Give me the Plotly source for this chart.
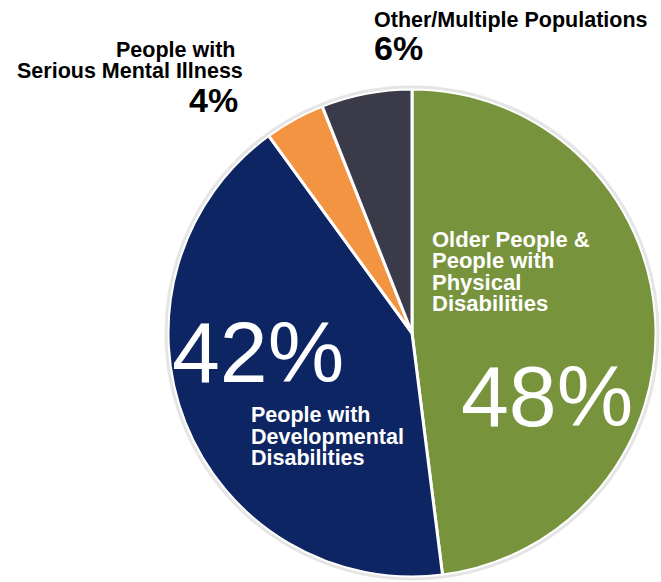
import plotly.graph_objects as go

# Share of spending by population group
categories = [
    "Older People & People with Physical Disabilities",
    "People with Developmental Disabilities",
    "People with Serious Mental Illness",
    "Other/Multiple Populations",
]
shares = [48, 42, 4, 6]
colors = ["#77933c", "#0e2563", "#f39442", "#3b3a48"]

W, H = 661, 582
CX, CY, R = 412, 333, 244


def px(x):
    return x / W


def py(y):
    return 1 - y / H


fig = go.Figure()
fig.add_trace(go.Pie(
    labels=categories,
    values=shares,
    sort=False,
    direction="clockwise",
    rotation=0,
    textinfo="none",
    hoverinfo="label+percent",
    marker=dict(colors=colors, line=dict(color="white", width=3)),
    domain=dict(x=[px(CX - R), px(CX + R)], y=[py(CY + R), py(CY - R)]),
    showlegend=False,
))

# soft halo around the pie edge
fig.add_shape(type="circle", xref="paper", yref="paper",
              x0=px(CX - R - 2), x1=px(CX + R + 2),
              y0=py(CY + R + 2), y1=py(CY - R - 2),
              line=dict(color="rgba(0,0,0,0.10)", width=3), layer="above")

BOLD = "Liberation Sans, Arial, sans-serif"


def line(text, x, baseline, size, color, anchor="left", bold=True):
    t = f"<b>{text}</b>" if bold else text
    fig.add_annotation(
        x=px(x), y=py(baseline - 0.35 * size), xref="paper", yref="paper",
        text=t, showarrow=False, xanchor=anchor, yanchor="middle",
        font=dict(family=BOLD, size=size, color=color),
    )


# slice labels inside the pie
for i, t in enumerate(["Older People &", "People with", "Physical", "Disabilities"]):
    line(t, 430, 247 + 21.4 * i, 22, "white")
for i, t in enumerate(["People with", "Developmental", "Disabilities"]):
    line(t, 249, 423 + 21.5 * i, 21.5, "white")

line(f"{shares[1]}%", 170, 382, 86, "white", bold=False)
line(f"{shares[0]}%", 459, 426, 86, "white", bold=False)

# labels above the pie
line("Other/Multiple Populations", 372, 28, 21.5, "black")
line(f"{shares[3]}%", 372, 60, 34, "black")
line("People with", 237, 58, 21.5, "black", anchor="right")
line("Serious Mental Illness", 245, 79, 21.5, "black", anchor="right")
line(f"{shares[2]}%", 240, 112, 34, "black", anchor="right")

fig.update_layout(
    width=W, height=H,
    margin=dict(l=0, r=0, t=0, b=0),
    paper_bgcolor="white", plot_bgcolor="white",
)

fig.write_html("out.html")
